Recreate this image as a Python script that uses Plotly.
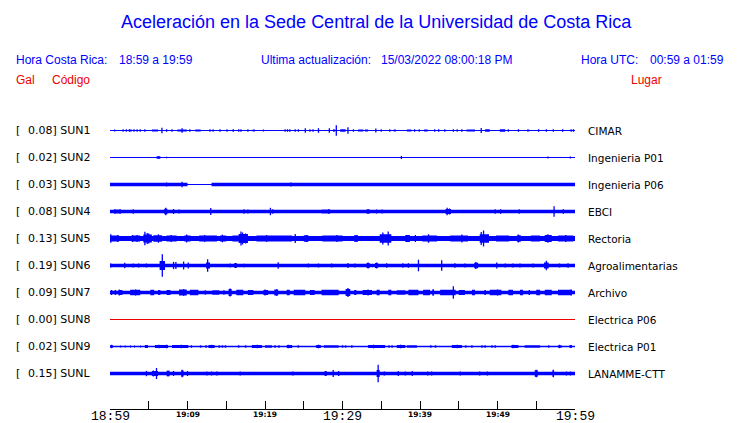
import plotly.graph_objects as go

# ---------------- data ----------------
CHANNELS = ["SUN1", "SUN2", "SUN3", "SUN4", "SUN5", "SUN6", "SUN7", "SUN8", "SUN9", "SUNL"]
PEAK_GAL = ["0.08", "0.02", "0.03", "0.08", "0.13", "0.19", "0.09", "0.00", "0.02", "0.15"]
PLACES = ["CIMAR", "Ingenieria P01", "Ingenieria P06", "EBCI", "Rectoria",
          "Agroalimentarias", "Archivo", "Electrica P06", "Electrica P01", "LANAMME-CTT"]

# minutes after 18:59
TICK_MINUTES = [0, 5, 10, 15, 20, 25, 30, 35, 40, 45, 50, 55, 60]
BIG_LABEL_MIN = [0, 30, 60]
BIG_LABELS = ["18:59", "19:29", "19:59"]
SMALL_LABEL_MIN = [10, 20, 40, 50]
SMALL_LABELS = ["19:09", "19:19", "19:39", "19:49"]

# background noise half-amplitude of each trace (relative units)
NOISE = [0.5, 0.0, 1.7, 1.7, 2.4, 1.8, 1.8, 0.0, 0.7, 1.8]
QUIET = {"SUN3": [(10.0, 13.1)]}

# spikes: times (min) and half-amplitudes
SUN1_T = [0.6, 1.7, 2.1, 2.5, 2.7, 3.1, 3.5, 3.9, 4.5,
          6.7, 7.3, 8.0, 9.3, 10.3,
          12.9, 13.3, 14.2, 15.1, 16.6, 16.9, 17.8, 19.8,
          22.6, 22.9, 23.2, 23.9, 24.3, 25.2, 25.8, 26.2, 26.9,
          28.3, 28.9, 29.2, 30.7, 31.4,
          34.3, 35.0, 36.1, 39.3, 39.9,
          41.9, 42.4, 43.2, 44.3, 44.8, 45.4,
          47.9, 51.4, 52.7, 55.3, 56.3, 57.2, 58.4, 59.5, 59.8]
SUN1_A = [1.0, 1.3, 1.3, 1.3, 1.3, 1.3, 1.3, 1.3, 1.3,
          2.7, 1.3, 1.3, 2.2, 1.3,
          1.3, 1.3, 1.3, 1.3, 1.3, 1.3, 1.3, 1.0,
          1.3, 1.3, 1.3, 1.3, 1.3, 2.3, 1.3, 1.3, 2.3,
          2.3, 1.5, 5.3, 3.2, 1.3,
          2.0, 1.3, 1.3, 1.3, 1.3,
          1.3, 1.3, 1.3, 1.3, 1.3, 1.3,
          2.5, 1.3, 1.3, 1.3, 1.3, 1.3, 1.3, 1.3, 1.3]
SUN1_B = [(5.4, 6.2, 1.1), (8.7, 9.9, 1.1), (11.0, 11.7, 1.0), (15.8, 16.0, 1.2),
          (18.4, 18.7, 1.0), (29.7, 30.4, 1.2), (32.0, 32.7, 1.0), (32.9, 33.3, 1.0),
          (36.6, 36.9, 1.0), (38.3, 38.9, 1.0), (40.5, 41.0, 1.1), (46.0, 47.1, 1.1),
          (48.4, 49.0, 1.3), (50.3, 51.0, 1.2), (53.8, 54.1, 1.0)]

SUN2_T = [6.3, 7.3, 37.6, 56.5, 59.4]
SUN2_A = [1.3, 0.8, 1.6, 1.0, 1.0]
SUN2_B = [(6.0, 6.5, 1.2)]

SUN3_T = [7.3, 9.3, 23.35]
SUN3_A = [2.0, 2.7, 2.0]
SUN3_B = []

SUN4_T = [0.65, 1.3, 3.0, 7.2, 8.2, 8.9, 11.7, 13.0, 13.7, 17.3, 17.8, 20.7, 21.0,
          25.2, 28.25, 33.3, 34.4, 35.1, 43.5, 43.8, 49.7, 50.4, 52.8, 57.3, 58.5]
SUN4_A = [2.3, 2.3, 2.3, 3.7, 2.5, 2.0, 1.5, 3.5, 1.5, 2.3, 2.0, 3.7, 2.3,
          1.5, 2.5, 2.0, 2.0, 2.0, 3.8, 3.0, 2.3, 2.3, 2.3, 5.2, 2.3]
SUN4_B = [(0.5, 1.4, 2.0), (7.0, 7.4, 2.8), (27.3, 28.4, 2.0), (33.1, 33.5, 2.3), (43.3, 44.0, 2.6)]

SUN5_T = [0.1, 1.0, 2.9, 3.5, 4.5, 4.8, 5.0, 6.25, 7.9, 9.9,
          12.2, 14.5, 16.9, 17.1, 17.5, 20.2, 23.9, 25.4, 29.3, 31.8,
          35.2, 35.9, 39.4, 41.1, 45.4, 47.9, 48.2, 52.7, 56.5, 58.8]
SUN5_A = [4.3, 3.5, 3.5, 3.5, 6.7, 5.5, 5.0, 4.2, 3.5, 4.0,
          3.5, 3.8, 7.0, 6.0, 5.0, 3.5, 4.5, 3.5, 3.5, 3.5,
          6.0, 7.0, 3.5, 4.3, 4.0, 6.5, 8.0, 4.0, 4.2, 3.5]
SUN5_B = [(0.0, 1.2, 2.9), (2.8, 3.9, 2.9), (4.3, 5.4, 4.0), (5.6, 6.7, 3.2), (7.3, 8.6, 2.9),
          (9.6, 10.4, 3.1), (11.5, 13.8, 2.9), (14.2, 15.0, 3.1), (15.8, 16.6, 2.9),
          (16.6, 17.8, 4.5), (18.9, 23.5, 2.9), (25.0, 25.6, 3.2), (27.4, 30.0, 2.9),
          (31.5, 32.0, 3.2), (34.8, 36.3, 4.3), (38.1, 38.7, 3.4), (40.3, 42.2, 2.9),
          (43.9, 46.2, 3.1), (47.7, 48.9, 4.2), (49.8, 51.5, 2.9), (52.5, 53.0, 3.2),
          (54.3, 55.5, 2.9), (56.1, 57.0, 3.5), (57.8, 59.8, 2.9)]

SUN6_T = [0.1, 1.9, 3.0, 3.7, 4.7, 6.75, 8.2, 8.5, 9.5, 10.1,
          12.6, 15.5, 16.2, 17.3, 21.7, 25.6, 26.9, 28.6, 30.7, 31.6,
          33.3, 34.4, 35.7, 37.8, 38.5, 39.8, 42.8, 44.5, 45.8, 47.2,
          49.9, 51.0, 52.0, 52.9, 54.6, 56.3, 58.0, 59.1]
SUN6_A = [2.0, 2.8, 2.0, 2.0, 2.0, 11.3, 3.7, 3.5, 4.0, 3.0,
          6.2, 2.0, 2.5, 1.8, 3.3, 2.0, 2.0, 2.0, 2.5, 2.0,
          3.0, 3.0, 2.3, 2.3, 2.3, 5.8, 5.3, 2.3, 2.0, 3.5,
          3.0, 2.0, 2.0, 2.0, 2.0, 4.7, 2.0, 2.3]
SUN6_B = [(6.4, 7.1, 4.5), (12.4, 12.9, 3.0), (16.0, 16.4, 2.3), (33.1, 33.5, 2.5),
          (34.2, 34.6, 2.5), (47.0, 47.5, 2.8), (56.0, 56.6, 3.0)]

SUN7_T = [1.2, 3.3, 9.5, 15.5, 20.0, 21.5, 30.7, 33.3, 44.3, 41.7, 50.0, 59.5]
SUN7_A = [3.0, 3.0, 3.3, 4.0, 3.0, 3.3, 4.5, 3.0, 6.3, 3.0, 3.0, 3.0]
SUN7_B = [(0.1, 0.3, 2.5), (0.6, 0.8, 2.5), (1.1, 1.6, 2.5), (2.6, 3.9, 2.7), (5.2, 5.7, 2.7),
          (6.2, 6.5, 2.5), (7.3, 7.8, 2.5), (8.9, 9.9, 3.0), (10.3, 11.4, 2.7), (12.2, 12.4, 2.3),
          (13.2, 14.1, 2.3), (14.6, 14.8, 2.3), (15.3, 15.7, 3.5), (16.3, 17.2, 2.8),
          (17.8, 18.5, 2.5), (19.8, 20.4, 2.5), (21.2, 21.7, 3.0), (22.8, 23.2, 2.7),
          (23.7, 25.2, 2.7), (25.8, 26.4, 2.5), (27.3, 29.5, 2.7), (30.4, 31.0, 3.5),
          (31.5, 31.8, 2.5), (32.6, 33.8, 2.5), (34.4, 34.8, 2.7), (35.9, 36.3, 2.7),
          (37.0, 38.1, 2.3), (38.5, 39.8, 2.7), (40.4, 41.3, 2.7), (41.6, 41.8, 3.0),
          (42.6, 44.6, 2.7), (45.0, 45.8, 2.5), (46.7, 47.1, 2.7), (48.3, 48.5, 2.5),
          (49.0, 50.5, 2.7), (51.4, 52.0, 2.7), (52.9, 53.3, 2.7), (54.0, 54.2, 2.5),
          (55.0, 55.5, 2.7), (56.1, 57.0, 2.7), (57.8, 59.6, 2.7)]

SUN8_T = []
SUN8_A = []
SUN8_B = []

SUN9_T = [0.2, 6.3, 7.3, 9.2, 13.1, 19.0, 23.0, 26.9, 34.0, 37.5, 44.8, 52.0, 58.0]
SUN9_A = [1.7, 1.8, 1.8, 1.8, 1.7, 1.8, 1.7, 1.8, 1.8, 1.8, 1.7, 1.7, 1.7]
SUN9_B = [(0.0, 0.4, 1.3), (1.3, 1.4, 1.2), (1.9, 2.0, 1.2), (2.6, 2.7, 1.2), (3.1, 3.2, 1.3),
          (3.9, 4.0, 1.2), (4.5, 4.9, 1.5), (5.8, 7.5, 1.5), (8.0, 10.1, 1.5), (10.4, 10.6, 1.3),
          (11.6, 11.8, 1.2), (12.3, 12.5, 1.2), (12.7, 13.5, 1.5), (14.0, 14.2, 1.2),
          (14.4, 14.6, 1.2), (14.8, 15.0, 1.2), (16.5, 16.7, 1.2), (17.4, 17.6, 1.2),
          (18.3, 19.6, 1.5), (20.0, 20.9, 1.3), (21.2, 21.4, 1.2), (21.7, 21.9, 1.2),
          (22.8, 23.5, 1.5), (24.2, 24.4, 1.2), (26.6, 27.2, 1.5), (27.6, 29.5, 1.3),
          (29.9, 30.1, 1.2), (30.3, 30.5, 1.2), (31.1, 31.3, 1.2), (33.3, 35.5, 1.5),
          (35.9, 36.1, 1.2), (36.3, 36.5, 1.2), (37.0, 38.1, 1.5), (38.3, 39.6, 1.3),
          (41.3, 41.5, 1.2), (41.9, 42.1, 1.2), (44.1, 45.4, 1.5), (45.8, 46.0, 1.2),
          (46.6, 46.8, 1.2), (47.9, 48.1, 1.2), (48.3, 48.5, 1.2), (49.2, 49.4, 1.2),
          (49.6, 49.8, 1.2), (51.8, 52.7, 1.5), (53.5, 55.5, 1.3), (56.5, 56.7, 1.2),
          (57.8, 58.3, 1.3), (59.3, 59.6, 1.5)]

SUNL_T = [2.4, 4.7, 5.6, 6.0, 7.5, 8.2, 9.3, 10.0, 12.5, 13.1,
          13.8, 16.8, 23.6, 27.8, 28.8, 29.5, 30.3, 33.5, 34.6, 35.4,
          37.2, 38.1, 39.0, 40.0, 41.0, 41.5, 45.2, 47.7, 48.7, 49.2,
          50.0, 55.0, 57.2, 58.9, 59.4]
SUNL_A = [1.5, 2.7, 3.0, 5.5, 2.7, 2.5, 3.8, 2.5, 2.0, 2.0,
          2.0, 2.0, 2.0, 2.5, 3.5, 2.5, 1.5, 1.5, 8.7, 2.0,
          2.5, 2.0, 2.5, 1.5, 2.0, 2.0, 2.0, 2.0, 2.0, 1.5,
          1.5, 3.8, 3.7, 2.0, 2.0]
SUNL_B = [(5.4, 6.2, 2.5), (7.3, 7.7, 2.7), (9.2, 9.5, 3.0), (27.7, 28.0, 2.3),
          (34.4, 34.8, 3.5), (54.8, 55.2, 3.2), (57.1, 57.3, 3.0)]

SPIKE_T = [SUN1_T, SUN2_T, SUN3_T, SUN4_T, SUN5_T, SUN6_T, SUN7_T, SUN8_T, SUN9_T, SUNL_T]
SPIKE_A = [SUN1_A, SUN2_A, SUN3_A, SUN4_A, SUN5_A, SUN6_A, SUN7_A, SUN8_A, SUN9_A, SUNL_A]
BURSTS = [SUN1_B, SUN2_B, SUN3_B, SUN4_B, SUN5_B, SUN6_B, SUN7_B, SUN8_B, SUN9_B, SUNL_B]

# ---------------- styling ----------------
BLUE = "#0000FF"
RED = "#EE0000"
ROW = 27.0            # vertical spacing between traces (in amplitude units)
T_END = 60
TOP_PAD = 20.5        # space above first trace
HEAD_FONT = "Liberation Sans, Arial, sans-serif"
LAB_FONT = "DejaVu Sans, sans-serif"
TIME_FONT = "Liberation Mono, DejaVu Sans Mono, monospace"

fig = go.Figure()

for i, ch in enumerate(CHANNELS):
    c = -ROW * i
    color = RED if ch == "SUN8" else BLUE
    fig.add_trace(go.Scatter(x=[0, T_END], y=[c, c], mode="lines",
                             line=dict(color=color, width=1), hoverinfo="skip"))
    segs = []
    if NOISE[i] > 0:
        start = 0.0
        for q0, q1 in QUIET.get(ch, []):
            segs.append((start, q0, NOISE[i]))
            start = q1
        segs.append((start, T_END, NOISE[i]))
    segs += BURSTS[i]
    px, py = [], []
    for t0, t1, a in segs:
        px += [t0, t1, t1, t0, t0, None]
        py += [c - a, c - a, c + a, c + a, c - a, None]
    if px:
        fig.add_trace(go.Scatter(x=px, y=py, mode="lines", fill="toself",
                                 fillcolor=color, line=dict(width=0, color=color),
                                 hoverinfo="skip"))
    sx, sy = [], []
    for t, a in zip(SPIKE_T[i], SPIKE_A[i]):
        sx += [t, t, None]
        sy += [c - a, c + a, None]
    if sx:
        fig.add_trace(go.Scatter(x=sx, y=sy, mode="lines",
                                 line=dict(color=color, width=1.3), hoverinfo="skip"))

annotations = []
PLOT_TOP, PLOT_BOT, PLOT_L, PLOT_R = 110, 409, 110, 575
def px2paper_x(p):
    return (p - PLOT_L) / (PLOT_R - PLOT_L)
def py2paper_y(p):
    return (PLOT_BOT - p) / (PLOT_BOT - PLOT_TOP)

def ann(text, x, y, size, color, family, xanchor="left", xref="paper", yref="paper"):
    annotations.append(dict(text=text, x=x, y=y, xref=xref, yref=yref,
                            xanchor=xanchor, yanchor="middle", showarrow=False,
                            font=dict(size=size, color=color, family=family)))

ann("Aceleración en la Sede Central de la Universidad de Costa Rica",
    px2paper_x(376.5), py2paper_y(22), 18, BLUE, HEAD_FONT, xanchor="center")
ann("Hora Costa Rica:", px2paper_x(14), py2paper_y(60), 12, BLUE, HEAD_FONT)
ann("18:59 a 19:59", px2paper_x(117), py2paper_y(60), 12, BLUE, HEAD_FONT)
ann("Ultima actualización:", px2paper_x(259), py2paper_y(60), 12, BLUE, HEAD_FONT)
ann("15/03/2022 08:00:18 PM", px2paper_x(379), py2paper_y(60), 12, BLUE, HEAD_FONT)
ann("Hora UTC:", px2paper_x(579), py2paper_y(60), 12, BLUE, HEAD_FONT)
ann("00:59 a 01:59", px2paper_x(726), py2paper_y(60), 12, BLUE, HEAD_FONT, xanchor="right")
ann("Gal", px2paper_x(14), py2paper_y(80), 12, RED, HEAD_FONT)
ann("Código", px2paper_x(49.5), py2paper_y(80), 12, RED, HEAD_FONT)
ann("Lugar", px2paper_x(629), py2paper_y(80), 12, RED, HEAD_FONT)

for i, ch in enumerate(CHANNELS):
    c = -ROW * i
    ann("[", px2paper_x(13.5), c, 11, "black", LAB_FONT, yref="y")
    ann(f"{PEAK_GAL[i]}] {ch}", px2paper_x(26), c, 11, "black", LAB_FONT, yref="y")
    ann(PLACES[i], px2paper_x(586), c, 10.5, "black", LAB_FONT, yref="y")

for t, lab in zip(BIG_LABEL_MIN, BIG_LABELS):
    ann(lab, t, py2paper_y(416.5), 13, "black", TIME_FONT, xanchor="center", xref="x")
for t, lab in zip(SMALL_LABEL_MIN, SMALL_LABELS):
    ann(f"<b>{lab}</b>", t, py2paper_y(414.5), 7.5, "black", LAB_FONT, xanchor="center", xref="x")

fig.update_layout(
    width=740, height=423,
    margin=dict(l=PLOT_L, r=740 - PLOT_R, t=PLOT_TOP, b=423 - PLOT_BOT),
    paper_bgcolor="white", plot_bgcolor="white",
    showlegend=False, hovermode=False,
    annotations=annotations,
    xaxis=dict(range=[0, T_END], showgrid=False, zeroline=False, showline=True,
               linecolor="black", linewidth=1, ticks="inside", ticklen=8,
               tickcolor="black", tickwidth=1, tickvals=TICK_MINUTES,
               showticklabels=False, fixedrange=True),
    yaxis=dict(range=[-(PLOT_BOT - PLOT_TOP - TOP_PAD), TOP_PAD], visible=False, fixedrange=True),
)

fig.write_html("out.html", config={"displayModeBar": False},
               post_script="document.body.style.margin='0';document.body.style.overflow='hidden';")
